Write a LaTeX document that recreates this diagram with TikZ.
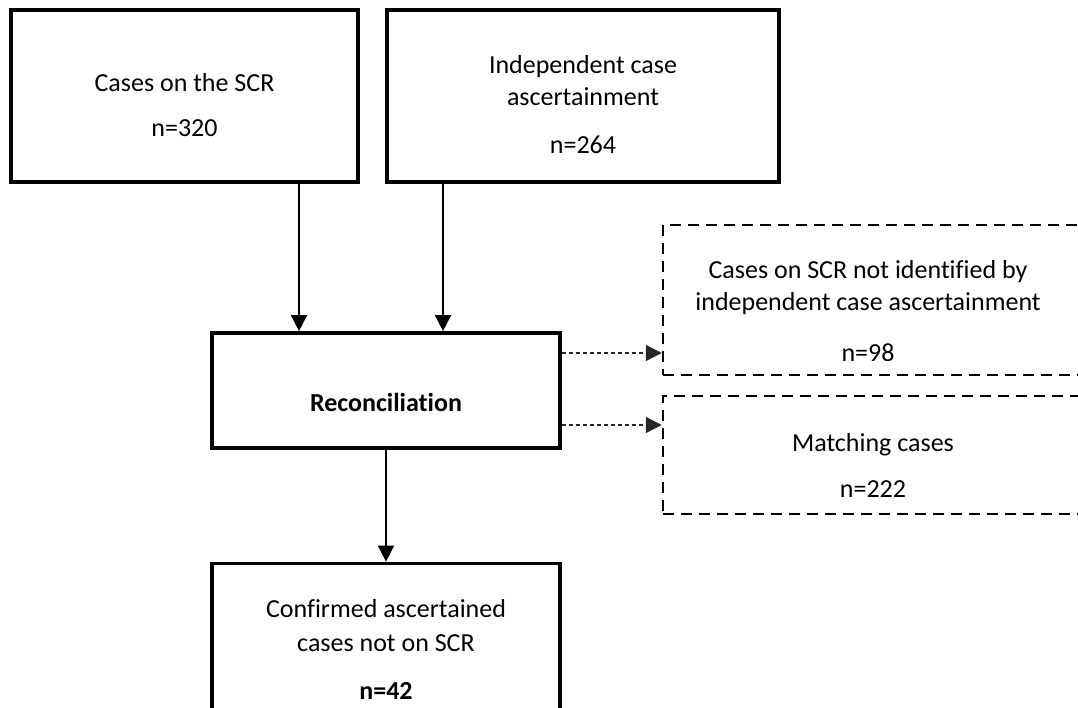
\documentclass[tikz,border=0pt]{standalone}
\usepackage{fontspec}
\setmainfont{Carlito}[Ligatures=NoCommon]
\usetikzlibrary{arrows.meta, positioning}
\tikzset{
    % Solid and dashed boxes
    mainBox/.style={
        rectangle,
        draw=black,
        line width=3.7pt,
        inner sep=0pt
    },
    sideBox/.style={
        rectangle,
        draw=black,
        line width=2.5pt,
        dash pattern=on 11pt off 7pt,
        inner sep=0pt
    },
    % Text inside the boxes
    boxText/.style={align=center, inner sep=0pt, font=\fontsize{26}{32}\selectfont},
    % Arrow styles
    arrow/.style={-{Triangle[width=16pt,length=16pt]}, line width=1.6pt},
    dashArrow/.style={-{Triangle[width=16pt,length=16pt]}, line width=1.3pt, dash pattern=on 4pt off 3pt, draw=black!85}
}

\begin{document}
\begin{tikzpicture}[x=1pt, y=-1pt]

    \clip (0,0) rectangle (1078,707);

    % --- TOP ROW (the two sources) ---
    \node (scr) [mainBox, minimum width=347pt, minimum height=172pt] at (184.5,96) {};
    \node (scrText) [boxText] at (184.5,105.5) {Cases on the SCR\\[13pt]n=320};

    \node (ica) [mainBox, minimum width=392pt, minimum height=172pt] at (583,96) {};
    \node (icaText) [boxText] at (583,105) {Independent case\\ascertainment\\[16pt]n=264};

    % --- MIDDLE (reconciliation) ---
    \node (recon) [mainBox, minimum width=348pt, minimum height=115pt] at (386,390.5) {};
    \node (reconText) [boxText] at (386,402) {\textbf{Reconciliation}};

    % --- BOTTOM (outcome) ---
    \node (confirmed) [mainBox, minimum width=348pt, minimum height=197pt] at (386,662) {};
    \node (confirmedText) [boxText] at (386,649) {Confirmed ascertained\\[2pt]cases not on SCR\\[16pt]\textbf{n=42}};

    % --- RIGHT SIDE (dashed results) ---
    \node (notIdent) [sideBox, minimum width=447pt, minimum height=150pt] at (886.5,300) {};
    \node (notIdentText) [boxText] at (868,311.5) {Cases on SCR not identified by\\independent case ascertainment\\[19pt]n=98};

    \node (matching) [sideBox, minimum width=447pt, minimum height=118pt] at (886.5,455) {};
    \node (matchingText) [boxText] at (873,465) {Matching cases\\[14pt]n=222};

    % --- Arrows ---
    \coordinate (inA) at (299,0);
    \coordinate (inB) at (443,0);
    \coordinate (outA) at (0,353);
    \coordinate (outB) at (0,425);

    \draw [arrow] (scr.south -| inA) -- (recon.north -| inA);
    \draw [arrow] (ica.south -| inB) -- (recon.north -| inB);
    \draw [arrow] (recon) -- (confirmed);
    \draw [dashArrow] (recon.east |- outA) -- (notIdent.west |- outA);
    \draw [dashArrow] (recon.east |- outB) -- (matching.west |- outB);

\end{tikzpicture}
\end{document}
